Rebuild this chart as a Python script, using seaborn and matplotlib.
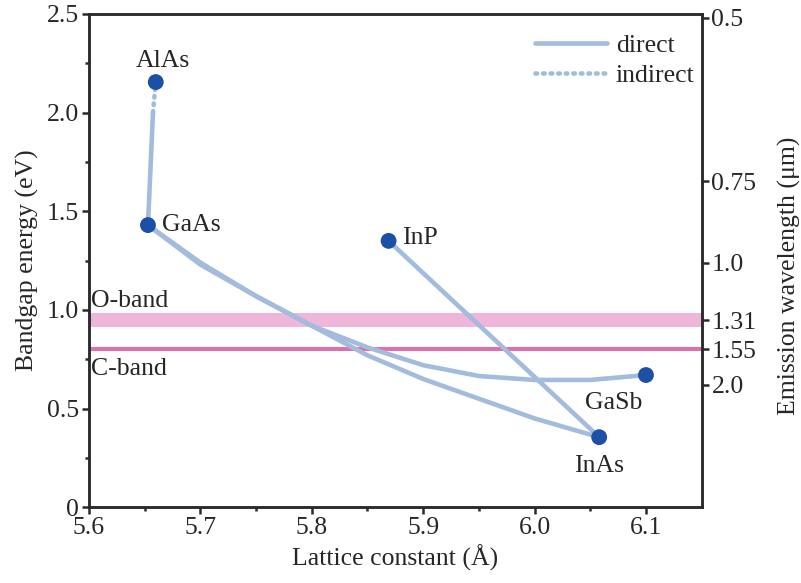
import numpy as np
import pandas as pd
import matplotlib
matplotlib.use("Agg")
import matplotlib.pyplot as plt
import seaborn as sns
from matplotlib.lines import Line2D

# ---- data ----
materials = ["AlAs", "GaAs", "InP", "InAs", "GaSb"]
mat_lattice = [5.660, 5.653, 5.869, 6.058, 6.100]
mat_gap = [2.155, 1.43, 1.35, 0.355, 0.67]

# AlAs-GaAs (direct part and indirect part)
algaas_dir_a = [5.653, 5.6575]
algaas_dir_e = [1.43, 2.00]
algaas_ind_a = [5.6575, 5.660]
algaas_ind_e = [2.00, 2.155]

# GaAs-InAs
ingaas_a = [5.653, 5.70, 5.75, 5.80, 5.85, 5.90, 5.95, 6.00, 6.058]
ingaas_e = [1.43, 1.24, 1.07, 0.92, 0.77, 0.65, 0.55, 0.45, 0.355]

# GaAs-GaSb
gaassb_a = [5.653, 5.70, 5.75, 5.80, 5.85, 5.90, 5.95, 6.00, 6.05, 6.10]
gaassb_e = [1.43, 1.23, 1.07, 0.92, 0.81, 0.72, 0.665, 0.645, 0.645, 0.67]

# InP-InAs
inasp_a = [5.869, 6.058]
inasp_e = [1.35, 0.355]

# right axis: emission wavelength (um)
wl_ticks = [0.5, 0.75, 1.0, 1.31, 1.55, 2.0]
wl_labels = ["0.5", "0.75", "1.0", "1.31", "1.55", "2.0"]

# telecom bands (um)
oband_um = [1.26, 1.36]
cband_um = [1.53, 1.565]

x_ticks = [5.6, 5.7, 5.8, 5.9, 6.0, 6.1]
x_labels = ["5.6", "5.7", "5.8", "5.9", "6.0", "6.1"]
y_ticks = [0, 0.5, 1.0, 1.5, 2.0, 2.5]
y_labels = ["0", "0.5", "1.0", "1.5", "2.0", "2.5"]

# ---- style ----
sns.set_style("ticks")
plt.rcParams["font.family"] = ["Liberation Serif", "DejaVu Serif"]

LINE_C = "#a3bbdc"
DOT_C = "#1c4fa6"
FS = 18.5
DOTS = (0, (0.35, 1.3))

fig = plt.figure(figsize=(8.01, 5.83), dpi=100)
ax = fig.add_axes([0.111, 0.130, 0.765, 0.846])

# bands
o_lo, o_hi = 1.24 / oband_um[1], 1.24 / oband_um[0]
c_lo, c_hi = 1.24 / cband_um[1], 1.24 / cband_um[0]
ax.axhspan(o_lo, o_hi, color="#efb6d9", lw=0, zorder=1)
ax.axhspan(c_lo, c_hi, color="#e06fb0", lw=0, zorder=1)

lw = 3.3
segs = [
    (algaas_dir_a, algaas_dir_e),
    (ingaas_a, ingaas_e),
    (gaassb_a, gaassb_e),
    (inasp_a, inasp_e),
]
for a, e in segs:
    df = pd.DataFrame({"a": a, "e": e})
    sns.lineplot(data=df, x="a", y="e", sort=False, ax=ax, color=LINE_C,
                 lw=lw, zorder=2, solid_capstyle="round", solid_joinstyle="round")
df_ind = pd.DataFrame({"a": algaas_ind_a, "e": algaas_ind_e})
sns.lineplot(data=df_ind, x="a", y="e", sort=False, ax=ax, color=LINE_C,
             lw=lw, ls=DOTS, dash_capstyle="round", zorder=2)

df_m = pd.DataFrame({"a": mat_lattice, "e": mat_gap, "m": materials})
sns.scatterplot(data=df_m, x="a", y="e", ax=ax, color=DOT_C, s=130,
                edgecolor="none", zorder=3, legend=False)

# material labels
offsets = {"AlAs": (5, 7, "center", "bottom"),
           "GaAs": (10, 0, "left", "center"),
           "InP": (10, 2, "left", "center"),
           "InAs": (0, -13, "center", "top"),
           "GaSb": (-23, -12, "center", "top")}
for m, a, e in zip(materials, mat_lattice, mat_gap):
    dx, dy, ha, va = offsets[m]
    ax.annotate(m, (a, e), xytext=(dx, dy), textcoords="offset points",
                ha=ha, va=va, fontsize=FS, zorder=4)

ax.text(5.602, o_hi + 0.005, "O-band", fontsize=FS, ha="left", va="bottom")
ax.text(5.602, c_lo - 0.035, "C-band", fontsize=FS, ha="left", va="top")

# legend
handles = [Line2D([], [], color=LINE_C, lw=lw),
           Line2D([], [], color=LINE_C, lw=lw, ls=DOTS, dash_capstyle="round")]
ax.legend(handles, ["direct", "indirect"], loc="upper right", frameon=False,
          fontsize=FS, handlelength=2.8, handletextpad=0.35, labelspacing=0.25,
          borderaxespad=0.0, bbox_to_anchor=(1.005, 0.98))

ax.set_xlim(5.6, 6.15)
ax.set_ylim(0, 2.5)
ax.set_xticks(x_ticks)
ax.set_xticklabels(x_labels)
ax.set_yticks(y_ticks)
ax.set_yticklabels(y_labels)
ax.set_xticks(np.arange(5.65, 6.15, 0.1), minor=True)
ax.set_yticks(np.arange(0.25, 2.5, 0.5), minor=True)
ax.set_xlabel("Lattice constant (Å)", fontsize=FS, labelpad=4)
ax.set_ylabel("Bandgap energy (eV)", fontsize=FS, labelpad=6)

ax2 = ax.twinx()
ax2.set_ylim(0, 2.5)
ax2.set_yticks([1.24 / w for w in wl_ticks])
ax2.set_yticklabels(wl_labels)
ax2.set_ylabel("Emission wavelength (μm)", fontsize=FS)
ax2.yaxis.set_label_coords(1.125, 0.47)

for a_ in (ax, ax2):
    for s in a_.spines.values():
        s.set_linewidth(1.8)
        s.set_color("#2a2a2a")
    a_.tick_params(which="major", direction="out", length=5, width=1.8,
                   labelsize=FS, color="#2a2a2a", pad=2)
    a_.tick_params(which="minor", direction="out", length=3, width=1.8,
                   color="#2a2a2a")

fig.savefig("out.png", dpi=100)
